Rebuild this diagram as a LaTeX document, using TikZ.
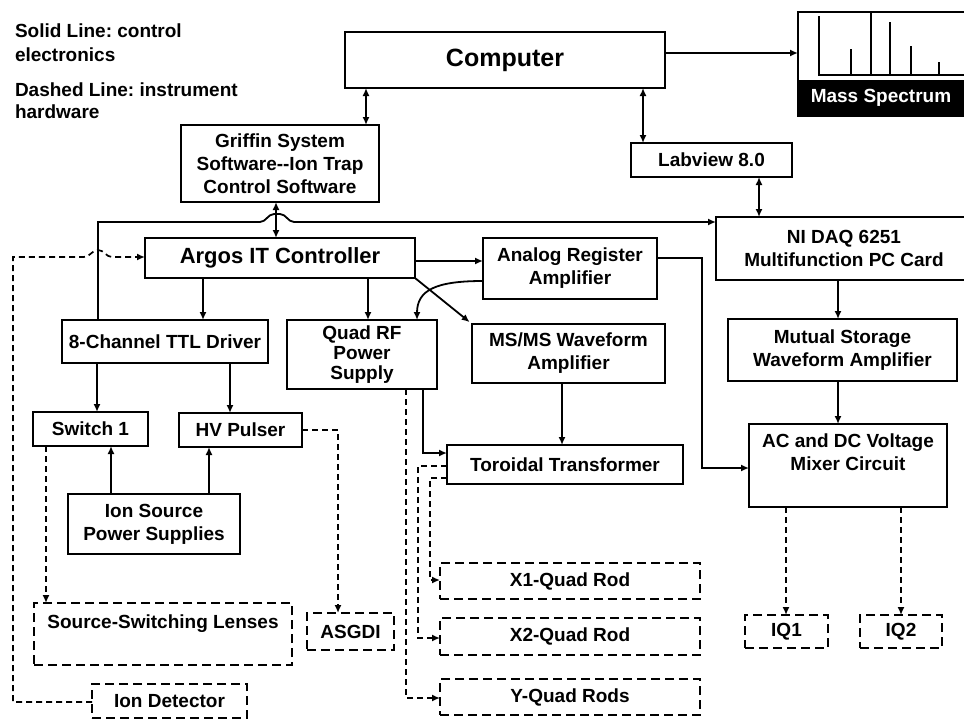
\documentclass[tikz,border=0pt]{standalone}
\usepackage{fontspec}
\setmainfont{Liberation Sans}
\usetikzlibrary{arrows.meta,calc}

\begin{document}
\frenchspacing
\begin{tikzpicture}[x=1pt,y=-1pt,
  font=\bfseries\fontsize{19}{23}\selectfont,
  >={Latex[length=8pt,width=7pt]},
  box/.style={draw,line width=2.3pt,inner sep=0pt,outer sep=0pt,align=center,anchor=north west},
  dbox/.style={box,line width=2.1pt,dash pattern=on 9pt off 5pt},
  conn/.style={line width=1.8pt},
  dconn/.style={line width=1.7pt,dash pattern=on 6pt off 4pt},
  txt/.style={inner sep=0pt,outer sep=0pt,align=center}]

\useasboundingbox (0,0) rectangle (964,720);
\clip (0,0) rectangle (964,720);

% legend
\node[txt,align=left,anchor=north west,font=\bfseries\fontsize{19}{24}\selectfont]
  (legsolid) at (15,24) {Solid Line: control\\electronics};
\node[txt,align=left,anchor=north west,font=\bfseries\fontsize{19}{22}\selectfont]
  (legdash) at (15,83) {Dashed Line: instrument\\hardware};

% top row
\node[box,minimum width=320pt,minimum height=56pt,font=\bfseries\fontsize{25}{30}\selectfont]
  (computer) at (345,32) {Computer};
\node[box,minimum width=170pt,minimum height=104pt] (mass) at (798,12) {};
\fill (798,80) rectangle (968,116);
\node[txt,text=white] (masslabel) at (881,98) {Mass Spectrum};
\draw[line width=1.9pt] (819,16) -- (819,75) -- (968,75);
\draw[line width=1.9pt] (851,75) -- (851,49)
  (871,75) -- (871,13)
  (890,75) -- (890,22)
  (911,75) -- (911,46)
  (939,75) -- (939,62);

\node[box,minimum width=198pt,minimum height=77pt] (griffin) at (181,125)
  {Griffin System\\Software-{}-Ion Trap\\Control Software};
\node[box,minimum width=161pt,minimum height=34pt] (labview) at (631,143) {Labview 8.0};

% controller row
\node[box,minimum width=270pt,minimum height=40pt,font=\bfseries\fontsize{22}{26}\selectfont]
  (argos) at (145,238) {Argos IT Controller};
\node[box,minimum width=174pt,minimum height=61pt] (analog) at (483,238)
  {Analog Register\\Amplifier};
\node[box,minimum width=256pt,minimum height=63pt] (nidaq) at (716,217)
  {NI DAQ 6251\\Multifunction PC Card};

% drivers and amplifiers
\node[box,minimum width=206pt,minimum height=43pt] (eightch) at (62,320) {8-Channel TTL Driver};
\node[box,minimum width=150pt,minimum height=69pt,font=\bfseries\fontsize{19}{20}\selectfont]
  (quadrf) at (287,320) {Quad RF\\Power\\Supply};
\node[box,minimum width=193pt,minimum height=59pt] (msms) at (472,324)
  {MS/MS Waveform\\Amplifier};
\node[box,minimum width=229pt,minimum height=62pt] (mutual) at (728,319)
  {Mutual Storage\\Waveform Amplifier};

\node[box,minimum width=115pt,minimum height=34pt] (switch1) at (33,412) {Switch 1};
\node[box,minimum width=123pt,minimum height=34pt] (hv) at (179,413) {HV Pulser};
\node[box,minimum width=172pt,minimum height=60pt] (ionsrc) at (68,494)
  {Ion Source\\Power Supplies};
\node[box,minimum width=236pt,minimum height=39pt] (toroidal) at (447,445) {Toroidal Transformer};
\node[box,minimum width=198pt,minimum height=83pt] (acdc) at (749,424) {};
\node[txt,anchor=north] (acdctext) at (848,434) {AC and DC Voltage\\Mixer Circuit};

% instrument hardware
\node[dbox,minimum width=258pt,minimum height=62pt] (lenses) at (34,603) {};
\node[txt,anchor=north] (lensestext) at (163,615) {Source-Switching Lenses};
\node[dbox,minimum width=87pt,minimum height=37pt] (asgdi) at (307,613) {ASGDI};
\node[dbox,minimum width=155pt,minimum height=34pt] (iondet) at (92,684) {Ion Detector};
\node[dbox,minimum width=260pt,minimum height=36pt] (x1) at (440,563) {X1-Quad Rod};
\node[dbox,minimum width=260pt,minimum height=37pt] (x2) at (440,618) {X2-Quad Rod};
\node[dbox,minimum width=260pt,minimum height=36pt] (yq) at (440,679) {Y-Quad Rods};
\node[dbox,minimum width=83pt,minimum height=33pt] (iq1) at (745,615) {IQ1};
\node[dbox,minimum width=82pt,minimum height=33pt] (iq2) at (860,615) {IQ2};

% control electronics (solid)
\draw[conn,->] (computer.east |- 0,53) -- (mass.west |- 0,53);
\draw[conn,<->] (computer.south -| 366,0) -- (griffin.north -| 366,0);
\draw[conn,<->] (computer.south -| 643,0) -- (labview.north -| 643,0);
\draw[conn,<->] (labview.south -| 759,0) -- (nidaq.north -| 759,0);
\draw[conn,<->] (griffin.south -| 276,0) -- (argos.north -| 276,0);
\draw[conn,->] (eightch.north -| 98,0) -- (98,222) -- (260,222)
  .. controls (266,222) and (268,214) .. (274,214) -- (280,214)
  .. controls (286,214) and (288,222) .. (294,222) -- (nidaq.west |- 0,222);
\draw[conn,->] (argos.south -| 203,0) -- (eightch.north -| 203,0);
\draw[conn,->] (argos.south -| 368,0) -- (quadrf.north -| 368,0);
\draw[conn,->] (argos.east |- 0,261) -- (analog.west |- 0,261);
\draw[conn,->,shorten >=3pt] (argos.south east) -- (msms.north west);
\draw[conn,->] (analog.west |- 0,281) .. controls (436,281) and (417,290) .. (quadrf.north -| 417,0);
\draw[conn,->] (analog.east |- 0,258) -- (702,258) -- (702,468) -- (acdc.west |- 0,468);
\draw[conn,->] (eightch.south -| 97,0) -- (switch1.north -| 97,0);
\draw[conn,->] (eightch.south -| 230,0) -- (hv.north -| 230,0);
\draw[conn,->] (ionsrc.north -| 111,0) -- (switch1.south -| 111,0);
\draw[conn,->] (ionsrc.north -| 209,0) -- (hv.south -| 209,0);
\draw[conn,->] (quadrf.south -| 423,0) -- (423,453) -- (toroidal.west |- 0,453);
\draw[conn,->] (msms.south -| 562,0) -- (toroidal.north -| 562,0);
\draw[conn,->] (nidaq.south -| 838,0) -- (mutual.north -| 838,0);
\draw[conn,->] (mutual.south -| 838,0) -- (acdc.north -| 838,0);

% instrument hardware (dashed)
\draw[dconn,->] (switch1.south -| 46,0) -- (lenses.north -| 46,0);
\draw[dconn,->] (hv.east |- 0,430) -- (338,430) -- (asgdi.north -| 338,0);
\draw[dconn,->] (quadrf.south -| 406,0) -- (406,698) -- (yq.west |- 0,698);
\draw[dconn,->] (toroidal.west |- 0,466) -- (418,466) -- (418,638) -- (x2.west |- 0,638);
\draw[dconn,->] (toroidal.west |- 0,478) -- (430,478) -- (430,580) -- (x1.west |- 0,580);
\draw[dconn,->] (acdc.south -| 786,0) -- (iq1.north -| 786,0);
\draw[dconn,->] (acdc.south -| 901,0) -- (iq2.north -| 901,0);
\draw[dconn,->] (iondet.west |- 0,702) -- (13,702) -- (13,257) -- (84,257)
  .. controls (90,257) and (92,250) .. (98,250)
  .. controls (104,250) and (106,257) .. (112,257) -- (argos.west |- 0,257);

\end{tikzpicture}
\end{document}
